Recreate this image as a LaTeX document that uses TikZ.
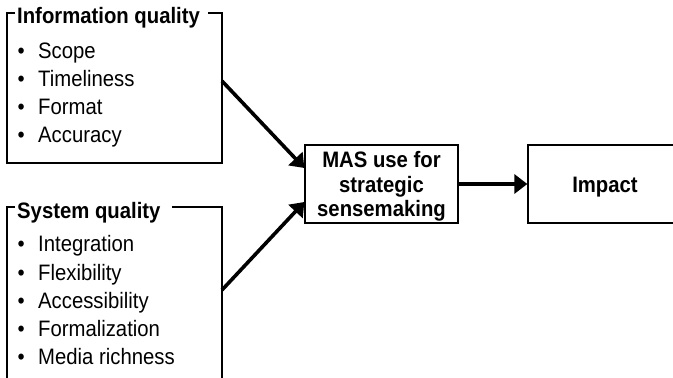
\documentclass[tikz,border=0pt]{standalone}
\usepackage{fontspec}
\setmainfont{Liberation Sans}
\usetikzlibrary{arrows.meta}
\newcommand\vstretch[1]{\scalebox{1}[1.1]{#1}}
\begin{document}
\begin{tikzpicture}[x=1pt,y=-1pt,
  txt/.style={font=\fontsize{20.3pt}{24.7pt}\selectfont, inner sep=0pt},
  ttl/.style={txt, font=\fontsize{20.3pt}{24.7pt}\selectfont\bfseries, anchor=base west},
  item/.style={txt, anchor=base west},
  frame/.style={line width=1.3pt},
  boxnode/.style={draw, line width=1.3pt, inner sep=0pt},
  bigarrow/.style={line width=3.6pt, -{Triangle[length=13pt,width=19pt]}}]
\useasboundingbox (0,0) rectangle (673,378);
% Information quality box
\node[inner sep=0pt, minimum width=215pt, minimum height=150pt] (info) at (114.5,88) {};
\node[ttl] (infot) at (17,23.5) {\vstretch{Information quality}};
\draw[frame] (15,13) -- (7,13) -- (7,163) -- (222,163) -- (222,13) -- (208,13);
\foreach \t [count=\i] in {Scope,Timeliness,Format,Accuracy}{
  \node[item] (ia\i) at (17.5,{58.5+28*(\i-1)}) {\vstretch{\makebox[20.5pt][l]{•}\t}};
}
% System quality box
\node[inner sep=0pt, minimum width=215pt, minimum height=175pt] (sys) at (114.5,294.5) {};
\node[ttl] (syst) at (17,218.5) {\vstretch{System quality}};
\draw[frame] (15,207) -- (7,207) -- (7,382) (222,382) -- (222,207) -- (172,207);
\foreach \t [count=\i] in {Integration,Flexibility,Accessibility,Formalization,Media richness}{
  \node[item] (sa\i) at (17.5,{251.7+28.3*(\i-1)}) {\vstretch{\makebox[20.5pt][l]{•}\t}};
}
% MAS box
\node[boxnode, minimum width=153pt, minimum height=78pt] (mas) at (381.5,184) {};
\node[txt, font=\fontsize{20.3pt}{22.5pt}\selectfont\bfseries, anchor=base] (mast) at (381.5,167.3)
  {\vstretch{\begin{tabular}[t]{@{}c@{}}MAS use for\\strategic\\sensemaking\end{tabular}}};
% Impact box
\node[boxnode, minimum width=154pt, minimum height=78pt] (imp) at (605,184) {};
\node[txt, font=\fontsize{20.3pt}{24.7pt}\selectfont\bfseries, anchor=base] (impt) at (605,192) {\vstretch{Impact}};
% arrows
\coordinate (a1) at (222,81);
\coordinate (a2) at (222,290);
\draw[bigarrow] (a1) -- (mas.west |- 0,168) ;
\draw[bigarrow] (a2) -- (mas.west |- 0,202);
\draw[bigarrow] (mas.east |- 0,184) -- (imp.west);
\end{tikzpicture}
\end{document}
